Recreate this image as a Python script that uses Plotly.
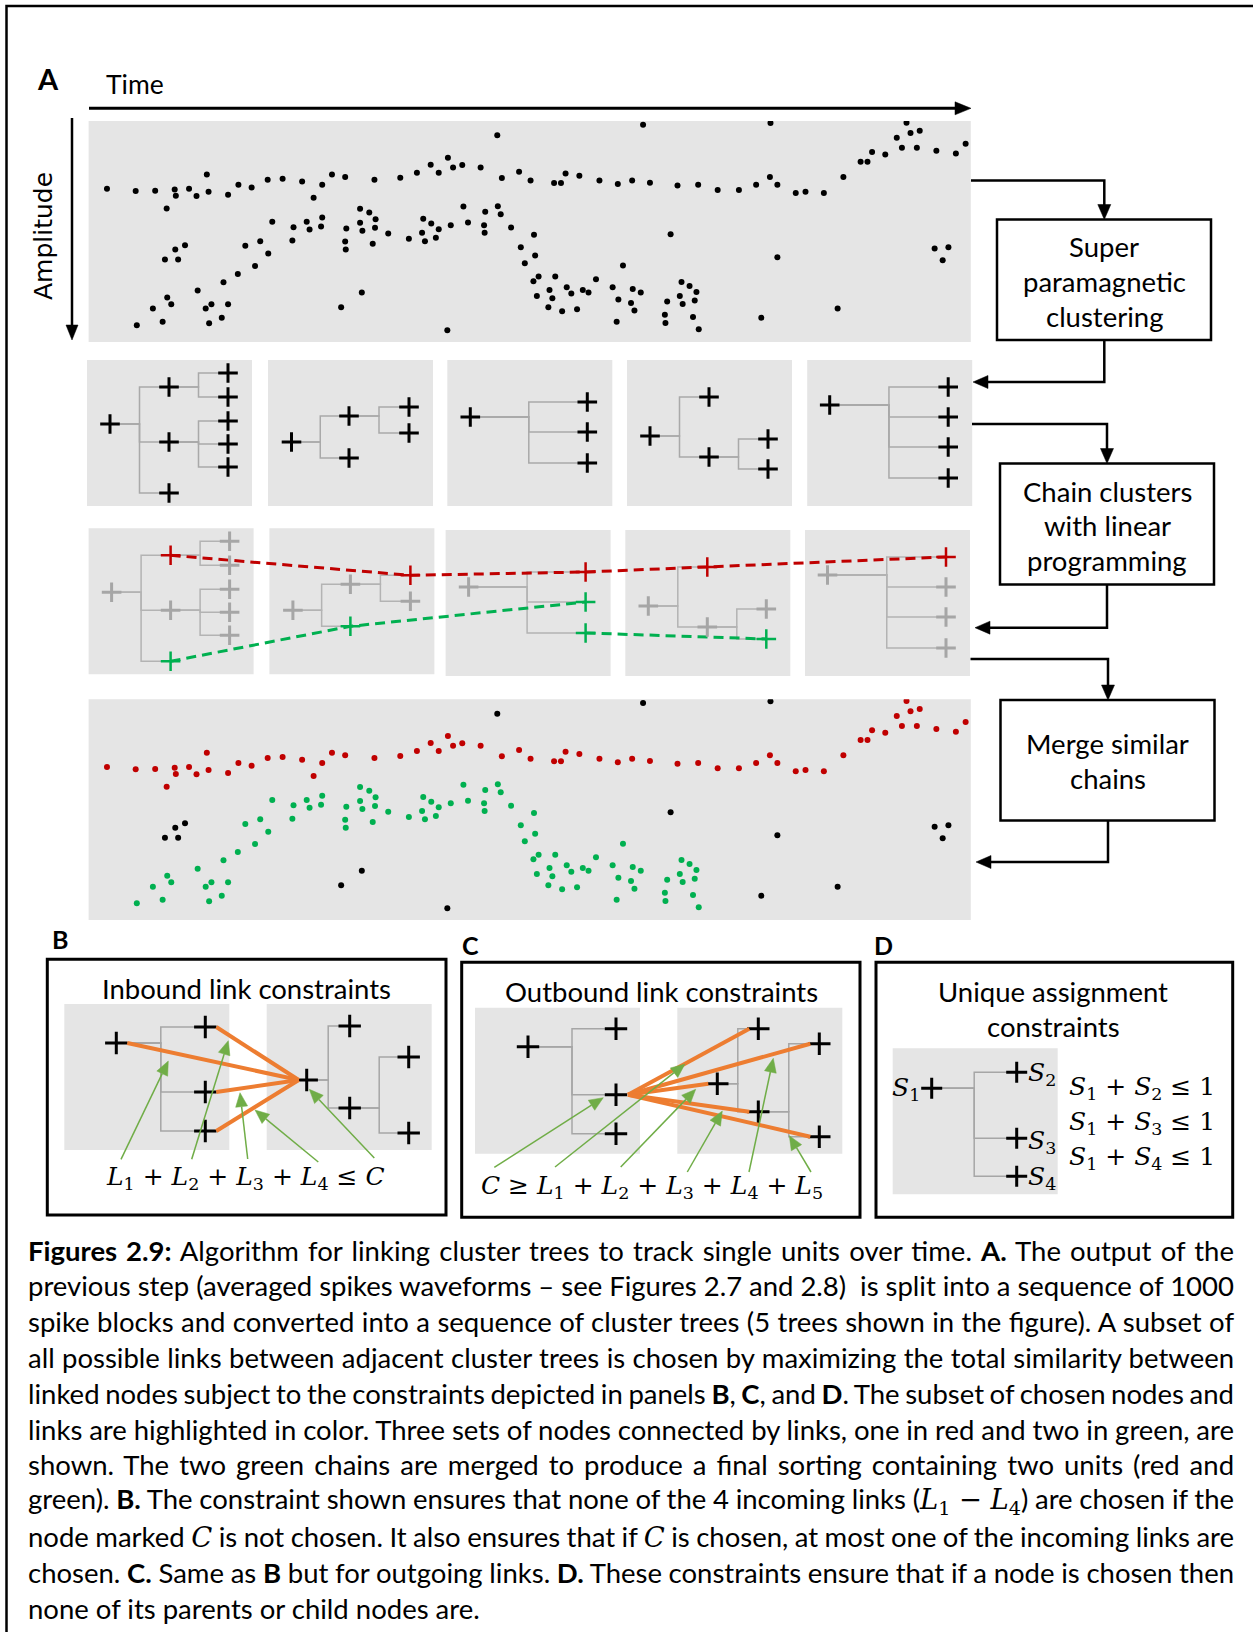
import plotly.graph_objects as go

W, H = 1253, 1632

# ---------------------------------------------------------------------------
# Spike events (time runs left->right, amplitude grows downward), arbitrary units
# ---------------------------------------------------------------------------
red_time = [47, 97, 131, 151, 165, 167, 190, 203, 221, 224, 258, 276, 299, 327, 353, 387, 407, 422, 439, 462,
            513, 558, 587, 611, 625, 641, 650, 666, 698, 735, 765, 785, 826, 838, 846, 870, 905, 937, 962, 993,
            1041, 1077, 1111, 1148, 1178, 1202, 1215, 1247, 1264, 1296, 1330, 1360, 1372, 1380, 1403, 1423,
            1432, 1440, 1447, 1463, 1458, 1492, 1526, 1543]
red_amp = [231, 238, 237, 290, 233, 252, 231, 253, 188, 240, 249, 219, 227, 204, 201, 209, 258, 219, 188, 196,
           204, 198, 183, 159, 183, 138, 167, 160, 167, 199, 180, 206, 214, 214, 185, 192, 206, 217, 206, 213,
           221, 219, 235, 235, 219, 196, 219, 244, 240, 244, 196, 150, 150, 121, 128, 78,
           108, 33, 64, 57, 108, 117, 125, 96]

green_time = [99, 127, 144, 152, 159, 205, 219, 225, 229, 247, 250, 258, 275, 288, 305, 314, 328, 335, 370, 372,
              395, 400, 420, 422, 462, 463, 464, 488, 488, 492, 504, 510, 515, 514, 537, 573, 598, 596, 601, 612,
              620, 625, 646, 668, 676, 704, 706, 705, 728, 733, 751, 768, 775, 791, 793, 790, 796, 799, 816, 818,
              823, 828, 840, 848, 856, 866, 876, 886, 899, 928, 935, 938, 946, 960, 963, 966, 977, 1019, 1020, 1023,
              1045, 1048, 1050, 1062, 1068, 1071, 1074, 1078]
green_amp = [640, 590, 629, 557, 577, 536, 590, 634, 577, 617, 511, 577, 486, 402, 462, 388, 425, 330, 386, 346,
             330, 353, 344, 317, 389, 413, 350, 291, 333, 357, 302, 396, 322, 348, 365, 381, 321, 363, 388, 335,
             378, 352, 340, 284, 332, 340, 300, 363, 283, 307, 347, 406, 454, 369, 431, 508, 552, 494, 586, 534,
             559, 494, 598, 526, 545, 592, 534, 542, 502, 526, 629, 563, 461, 573, 531, 596, 542, 608, 633, 569,
             552, 510, 576, 522, 615, 566, 540, 652]

noise_time = [727, 981, 1203, 1029, 1215, 1489, 1513, 1503, 148, 166, 183, 171, 491, 455, 640, 1187, 1320]
noise_amp = [71, 39, 34, 367, 436, 410, 406, 445, 443, 413, 400, 443, 542, 586, 655, 617, 590]

# ---------------------------------------------------------------------------
# Cluster trees, one per spike block (node position inside its block, parent index)
# ---------------------------------------------------------------------------
tree_x = [[23, 82, 82, 82, 141, 141, 141, 141, 141],
          [23.5, 81, 81, 141, 141],
          [23, 140, 140, 140],
          [23, 82, 82, 141, 141],
          [22.5, 141, 141, 141, 141]]
tree_y = [[64, 27, 82, 133, 13, 37, 61, 84, 107],
          [82, 56, 98, 47, 73],
          [57, 42, 72, 103],
          [76, 37, 97, 79, 109],
          [45, 27, 57, 87, 118]]
tree_parent = [[-1, 0, 0, 0, 1, 1, 2, 2, 2],
               [-1, 0, 0, 1, 1],
               [-1, 0, 0, 0],
               [-1, 0, 0, 2, 2],
               [-1, 0, 0, 0, 0]]

# chains selected by the linear program: (tree, node)
red_chain = [(0, 1), (1, 3), (2, 1), (3, 1), (4, 1)]
green_chains = [[(0, 3), (1, 2), (2, 2)], [(2, 3), (3, 4)]]

# Constraint diagrams (B, C, D): small trees
b_left = dict(x=[52, 141, 141, 141], y=[39, 23, 88, 127], parent=[-1, 0, 0, 0])
b_right = dict(x=[40, 83, 83, 142, 142], y=[76, 22, 104, 53, 129], parent=[-1, 0, 0, 2, 2])
c_left = dict(x=[53, 141, 141, 141], y=[39, 21, 87, 126], parent=[-1, 0, 0, 0])
c_right = dict(x=[40, 81, 81, 142, 142], y=[76, 21, 104, 36, 129], parent=[-1, 0, 0, 2, 2])
d_tree = dict(x=[39, 124, 124, 124], y=[40, 24, 90, 128], parent=[-1, 0, 0, 0])
b_links_from = [0, 1, 2, 3]          # left-tree nodes linked into C
c_links_to = [1, 3, 0, 2, 4]         # right-tree nodes linked out of C

# ---------------------------------------------------------------------------
SANS = "Lato"
MATH = "DejaVu Serif"
PANEL = "#e5e5e5"
TREE_LINE = "#a9a9a9"
RED = "#c00000"
GREEN = "#00b050"
ORANGE = "#ed7d31"
POINTER = "#70ad47"
GREY_NODE = "#a6a6a6"

fig = go.Figure()
shapes = []
annotations = []


def rect(x0, y0, x1, y1, fill=None, lw=0, lc="black", layer="below"):
    shapes.append(dict(type="rect", xref="x", yref="y", x0=x0, y0=y0, x1=x1, y1=y1,
                       fillcolor=fill if fill else "rgba(0,0,0,0)",
                       line=dict(color=lc, width=lw), layer=layer))


def path(d, lw=2.5, color="black", fill=None, layer="above"):
    shapes.append(dict(type="path", xref="x", yref="y", path=d,
                       line=dict(color=color, width=lw),
                       fillcolor=fill if fill else "rgba(0,0,0,0)", layer=layer))


def head(tx, ty, ux, uy, length=15, width=13, color="black"):
    n = (ux * ux + uy * uy) ** 0.5
    ux, uy = ux / n, uy / n
    bx, by = tx - ux * length, ty - uy * length
    nx, ny = -uy, ux
    d = (f"M{tx},{ty} L{bx + nx * width / 2},{by + ny * width / 2} "
         f"L{bx - nx * width / 2},{by - ny * width / 2} Z")
    path(d, lw=0.5, color=color, fill=color)
    return bx, by


def text(x, y, s, size, family=SANS, color="black", xanchor="center", yanchor="middle", angle=0):
    annotations.append(dict(x=x, y=y, xref="x", yref="y", text=s, showarrow=False,
                            font=dict(family=family, size=size, color=color),
                            xanchor=xanchor, yanchor=yanchor, textangle=angle, align="left"))
    return len(annotations) - 1


def elbows(ox, oy, xs, ys, parents):
    X, Y = [], []
    for i, p in enumerate(parents):
        if p < 0:
            continue
        kids = [xs[j] for j, q in enumerate(parents) if q == p]
        px, py = ox + xs[p], oy + ys[p]
        cx, cy = ox + xs[i], oy + ys[i]
        mx = px + (min(kids) - xs[p]) / 2
        X += [px, mx, mx, cx, None]
        Y += [py, py, cy, cy, None]
    return X, Y


def add_lines(X, Y, color=TREE_LINE, width=1.5, dash=None):
    fig.add_trace(go.Scatter(x=X, y=Y, mode="lines", line=dict(color=color, width=width, dash=dash),
                             hoverinfo="skip", showlegend=False, xaxis="x", yaxis="y"))


def add_nodes(X, Y, color="black", size=14, width=3):
    fig.add_trace(go.Scatter(x=X, y=Y, mode="markers",
                             marker=dict(symbol="cross-thin", size=size, color=color,
                                         line=dict(color=color, width=width)),
                             hoverinfo="skip", showlegend=False, xaxis="x", yaxis="y"))


# outer frame
rect(6.5, 6, W + 20, H + 20, lw=2.5, layer="above")

# ---------------------------------------------------------------------------
# Panel A : spike panels (own axes)
# ---------------------------------------------------------------------------
TOP = (88.6, 121, 970.8, 342)
BOT = (88.6, 699.3, 970.8, 920)
for (x0, y0, x1, y1) in (TOP, BOT):
    rect(x0, y0, x1, y1, fill=PANEL)

for t, a in ((red_time, red_amp), (green_time, green_amp), (noise_time, noise_amp)):
    fig.add_trace(go.Scatter(x=t, y=a, mode="markers", marker=dict(color="black", size=6),
                             hoverinfo="skip", showlegend=False, xaxis="x2", yaxis="y2"))
for t, a, c in ((noise_time, noise_amp, "black"), (red_time, red_amp, RED), (green_time, green_amp, GREEN)):
    fig.add_trace(go.Scatter(x=t, y=a, mode="markers", marker=dict(color=c, size=6),
                             hoverinfo="skip", showlegend=False, xaxis="x3", yaxis="y3"))

# axes arrows
path("M89,108.3 L957,108.3", lw=3)
head(971, 108.3, 1, 0, length=16, width=13)
path("M72,118 L72,326", lw=2.5)
head(72, 340, 0, 1, length=15, width=12)
text(47.5, 78, "<b>A</b>", 29)
text(104, 84, "Time", 26.5, xanchor="left")
text(43, 236, "Amplitude", 25, family="DejaVu Sans", angle=-90)

# ---------------------------------------------------------------------------
# Cluster tree rows
# ---------------------------------------------------------------------------
ROW1 = [(87, 360), (268, 360), (447.3, 360), (627, 360), (807.2, 360)]
ROW2 = [(88.6, 528.3), (269.4, 528.3), (445.6, 530), (625.3, 530), (805, 530)]
PW, PH = 165, 146

for ox, oy in ROW1 + ROW2:
    rect(ox, oy, ox + PW, oy + PH, fill=PANEL)

X, Y = [], []
for k, (ox, oy) in enumerate(ROW1):
    a, b = elbows(ox, oy, tree_x[k], tree_y[k], tree_parent[k])
    X += a
    Y += b
add_lines(X, Y)
add_nodes([ROW1[k][0] + x for k in range(5) for x in tree_x[k]],
          [ROW1[k][1] + y for k in range(5) for y in tree_y[k]])

X, Y = [], []
for k, (ox, oy) in enumerate(ROW2):
    a, b = elbows(ox, oy, tree_x[k], tree_y[k], tree_parent[k])
    X += a
    Y += b
add_lines(X, Y, color="#b3b3b3")


def node_xy(k, i):
    return ROW2[k][0] + tree_x[k][i], ROW2[k][1] + tree_y[k][i]


add_lines([node_xy(k, i)[0] for k, i in red_chain], [node_xy(k, i)[1] for k, i in red_chain],
          color=RED, width=3, dash="10px,6px")
for ch in green_chains:
    add_lines([node_xy(k, i)[0] for k, i in ch], [node_xy(k, i)[1] for k, i in ch],
              color=GREEN, width=3, dash="10px,6px")

chosen = set(red_chain) | {n for ch in green_chains for n in ch}
gx = [node_xy(k, i)[0] for k in range(5) for i in range(len(tree_x[k])) if (k, i) not in chosen]
gy = [node_xy(k, i)[1] for k in range(5) for i in range(len(tree_x[k])) if (k, i) not in chosen]
add_nodes(gx, gy, color=GREY_NODE, width=3)
add_nodes([node_xy(k, i)[0] for k, i in red_chain], [node_xy(k, i)[1] for k, i in red_chain], color=RED, width=2.5)
gn = [n for ch in green_chains for n in ch]
add_nodes([node_xy(k, i)[0] for k, i in gn], [node_xy(k, i)[1] for k, i in gn], color=GREEN, width=2.5)

# ---------------------------------------------------------------------------
# Flow chart on the right
# ---------------------------------------------------------------------------
BOXES = [((997, 219.5, 1211, 340), ["Super", "paramagnetic", "clustering"], [246, 281.5, 316]),
         ((1000, 463.5, 1214, 584.5), ["Chain clusters", "with linear", "programming"], [491, 525.5, 560]),
         ((1000.5, 700, 1214.5, 820.5), ["Merge similar", "chains"], [743.5, 778])]
for (x0, y0, x1, y1), lines, ys in BOXES:
    rect(x0, y0, x1, y1, fill="white", lw=2.5, layer="above")
    for s, yy in zip(lines, ys):
        text((x0 + x1) / 2, yy, s, 27.5)

# down arrows into boxes, left arrows back into the panels
path("M971,180.4 L1104.3,180.4 L1104.3,206")
head(1104.3, 219.5, 0, 1)
path("M1104.3,340 L1104.3,382 L987,382")
head(973, 382, -1, 0)
path("M972,424 L1107,424 L1107,450")
head(1107, 463.5, 0, 1)
path("M1107,584.5 L1107,627.7 L989,627.7")
head(975, 627.7, -1, 0)
path("M970.5,659 L1108,659 L1108,687")
head(1108, 700, 0, 1)
path("M1108,820.5 L1108,862 L990,862")
head(976, 862, -1, 0)

# ---------------------------------------------------------------------------
# Panels B, C, D
# ---------------------------------------------------------------------------
rect(47.3, 959.3, 446, 1215, lw=3, layer="above")
rect(461.7, 962.3, 860, 1217.3, lw=3, layer="above")
rect(876, 962.3, 1232.7, 1217.3, lw=3, layer="above")
text(59.5, 939, "<b>B</b>", 25)
text(470, 945, "<b>C</b>", 25)
text(883, 945, "<b>D</b>", 25)
text(246.7, 988, "Inbound link constraints", 27.5)
text(661.7, 991.5, "Outbound link constraints", 27.5)
text(1053.3, 991.5, "Unique assignment", 27.5)
text(1053.3, 1026.5, "constraints", 27.5)

BL, BR = (64.3, 1004), (266.7, 1004)
CL, CR = (475, 1007.7), (677.3, 1007.7)
DP = (892.7, 1048.3)
for (ox, oy) in (BL, BR, CL, CR, DP):
    rect(ox, oy, ox + 165, oy + 146, fill=PANEL)

X, Y = [], []
for (ox, oy), tr in ((BL, b_left), (BR, b_right), (CL, c_left), (CR, c_right), (DP, d_tree)):
    a, b = elbows(ox, oy, tr["x"], tr["y"], tr["parent"])
    X += a
    Y += b
add_lines(X, Y, color="#a6a6a6", width=1.5)

# orange candidate links
bcx, bcy = BR[0] + b_right["x"][0], BR[1] + b_right["y"][0]
for i in b_links_from:
    sx, sy = BL[0] + b_left["x"][i], BL[1] + b_left["y"][i]
    path(f"M{sx + 11},{sy} L{bcx - 8},{bcy}", lw=4, color=ORANGE)
ccx, ccy = CL[0] + c_left["x"][2], CL[1] + c_left["y"][2]
for i in c_links_to:
    tx, ty = CR[0] + c_right["x"][i], CR[1] + c_right["y"][i]
    path(f"M{ccx + 12},{ccy} L{tx - 9},{ty}", lw=4, color=ORANGE)

for (ox, oy), tr in ((BL, b_left), (BR, b_right), (CL, c_left), (CR, c_right)):
    add_nodes([ox + v for v in tr["x"]], [oy + v for v in tr["y"]], size=16, width=3)
add_nodes([DP[0] + v for v in d_tree["x"]], [DP[1] + v for v in d_tree["y"]], size=15, width=3)

# green pointer arrows: (start x, start y, tip x, tip y)
POINTERS = [(121, 1159.3, 168.3, 1061), (191.7, 1159.3, 228.3, 1040.7), (247.7, 1159, 240, 1092.7),
            (318.3, 1162, 255, 1110), (374.3, 1158, 309.3, 1089.3),
            (494.3, 1167.3, 603.3, 1097.7), (555, 1167, 685, 1064), (620.7, 1167, 695.7, 1089.3),
            (687.3, 1172, 722.3, 1111), (749, 1172, 773.3, 1058.3), (811, 1172, 789.3, 1135.7)]
for sx, sy, tx, ty in POINTERS:
    bx, by = head(tx, ty, tx - sx, ty - sy, length=14, width=12, color=POINTER)
    path(f"M{sx},{sy} L{bx},{by}", lw=1.5, color=POINTER)


def L(n):
    return f"<i>L</i><sub>{n}</sub>"


def S(n):
    return f"<i>S</i><sub>{n}</sub>"


text(245, 1178, " + ".join(L(n) for n in range(1, 5)) + " ≤ <i>C</i>", 25, family=MATH)
text(652, 1187, "<i>C</i> ≥ " + " + ".join(L(n) for n in range(1, 6)), 25, family=MATH)
text(922, 1089, S(1), 25, family=MATH, xanchor="right")
for n, yy in zip((2, 3, 4), (1074, 1142, 1178)):
    text(1026, yy, S(n), 25, family=MATH, xanchor="left")
for n, yy in zip((2, 3, 4), (1088, 1122.5, 1157.5)):
    text(1067, yy, f"{S(1)} + {S(n)} ≤ 1", 25, family=MATH, xanchor="left")

# ---------------------------------------------------------------------------
# Caption
# ---------------------------------------------------------------------------
M = "<span style='font-family:DejaVu Serif'>"
caption = [
    "<b>Figures 2.9:</b> Algorithm for linking cluster trees to track single units over time. <b>A.</b> The output of the",
    "previous step (averaged spikes waveforms – see Figures 2.7 and 2.8)  is split into a sequence of 1000",
    "spike blocks and converted into a sequence of cluster trees (5 trees shown in the figure). A subset of",
    "all possible links between adjacent cluster trees is chosen by maximizing the total similarity between",
    "linked nodes subject to the constraints depicted in panels <b>B</b>, <b>C</b>, and <b>D</b>. The subset of chosen nodes and",
    "links are highlighted in color. Three sets of nodes connected by links, one in red and two in green, are",
    "shown. The two green chains are merged to produce a final sorting containing two units (red and",
    f"green). <b>B.</b> The constraint shown ensures that none of the 4 incoming links ({M}{L(1)} − {L(4)}</span>) are chosen if the",
    f"node marked {M}<i>C</i></span> is not chosen. It also ensures that if {M}<i>C</i></span> is chosen, at most one of the incoming links are",
    "chosen. <b>C.</b> Same as <b>B</b> but for outgoing links. <b>D.</b> These constraints ensure that if a node is chosen then",
    "none of its parents or child nodes are.",
]
justify_ids = []
for i, line in enumerate(caption):
    k = text(26, 1250 + 35.8 * i, line, 27.5, xanchor="left")
    if i < len(caption) - 1:
        justify_ids.append(k)

# ---------------------------------------------------------------------------
hidden = dict(visible=False, fixedrange=True)
fig.update_layout(
    width=W, height=H, margin=dict(l=0, r=0, t=0, b=0),
    paper_bgcolor="white", plot_bgcolor="rgba(0,0,0,0)", showlegend=False,
    xaxis=dict(range=[0, W], domain=[0, 1], **hidden),
    yaxis=dict(range=[H, 0], domain=[0, 1], **hidden),
    xaxis2=dict(range=[15, 1552], domain=[TOP[0] / W, TOP[2] / W], anchor="y2", **hidden),
    yaxis2=dict(range=[690, 28], domain=[1 - TOP[3] / H, 1 - TOP[1] / H], anchor="x2", **hidden),
    xaxis3=dict(range=[15, 1552], domain=[BOT[0] / W, BOT[2] / W], anchor="y3", **hidden),
    yaxis3=dict(range=[690, 28], domain=[1 - BOT[3] / H, 1 - BOT[1] / H], anchor="x3", **hidden),
    shapes=shapes, annotations=annotations,
)

# stretch word spacing so caption lines are justified to the text width
justify_js = """
var gd = document.getElementById('{plot_id}');
var ids = %s;
var target = 1206;
ids.forEach(function(k){
  var g = gd.querySelector('g.annotation[data-index="' + k + '"]');
  if (!g) return;
  var t = g.querySelector('text.annotation-text');
  if (!t) return;
  t.style.wordSpacing = '0px';
  var len = t.getComputedTextLength();
  var n = (t.textContent.match(/ /g) || []).length;
  if (n > 0) t.style.wordSpacing = ((target - len) / n).toFixed(2) + 'px';
});
""" % str(justify_ids)

fig.write_html("out.html", post_script=justify_js, config={"staticPlot": True})
